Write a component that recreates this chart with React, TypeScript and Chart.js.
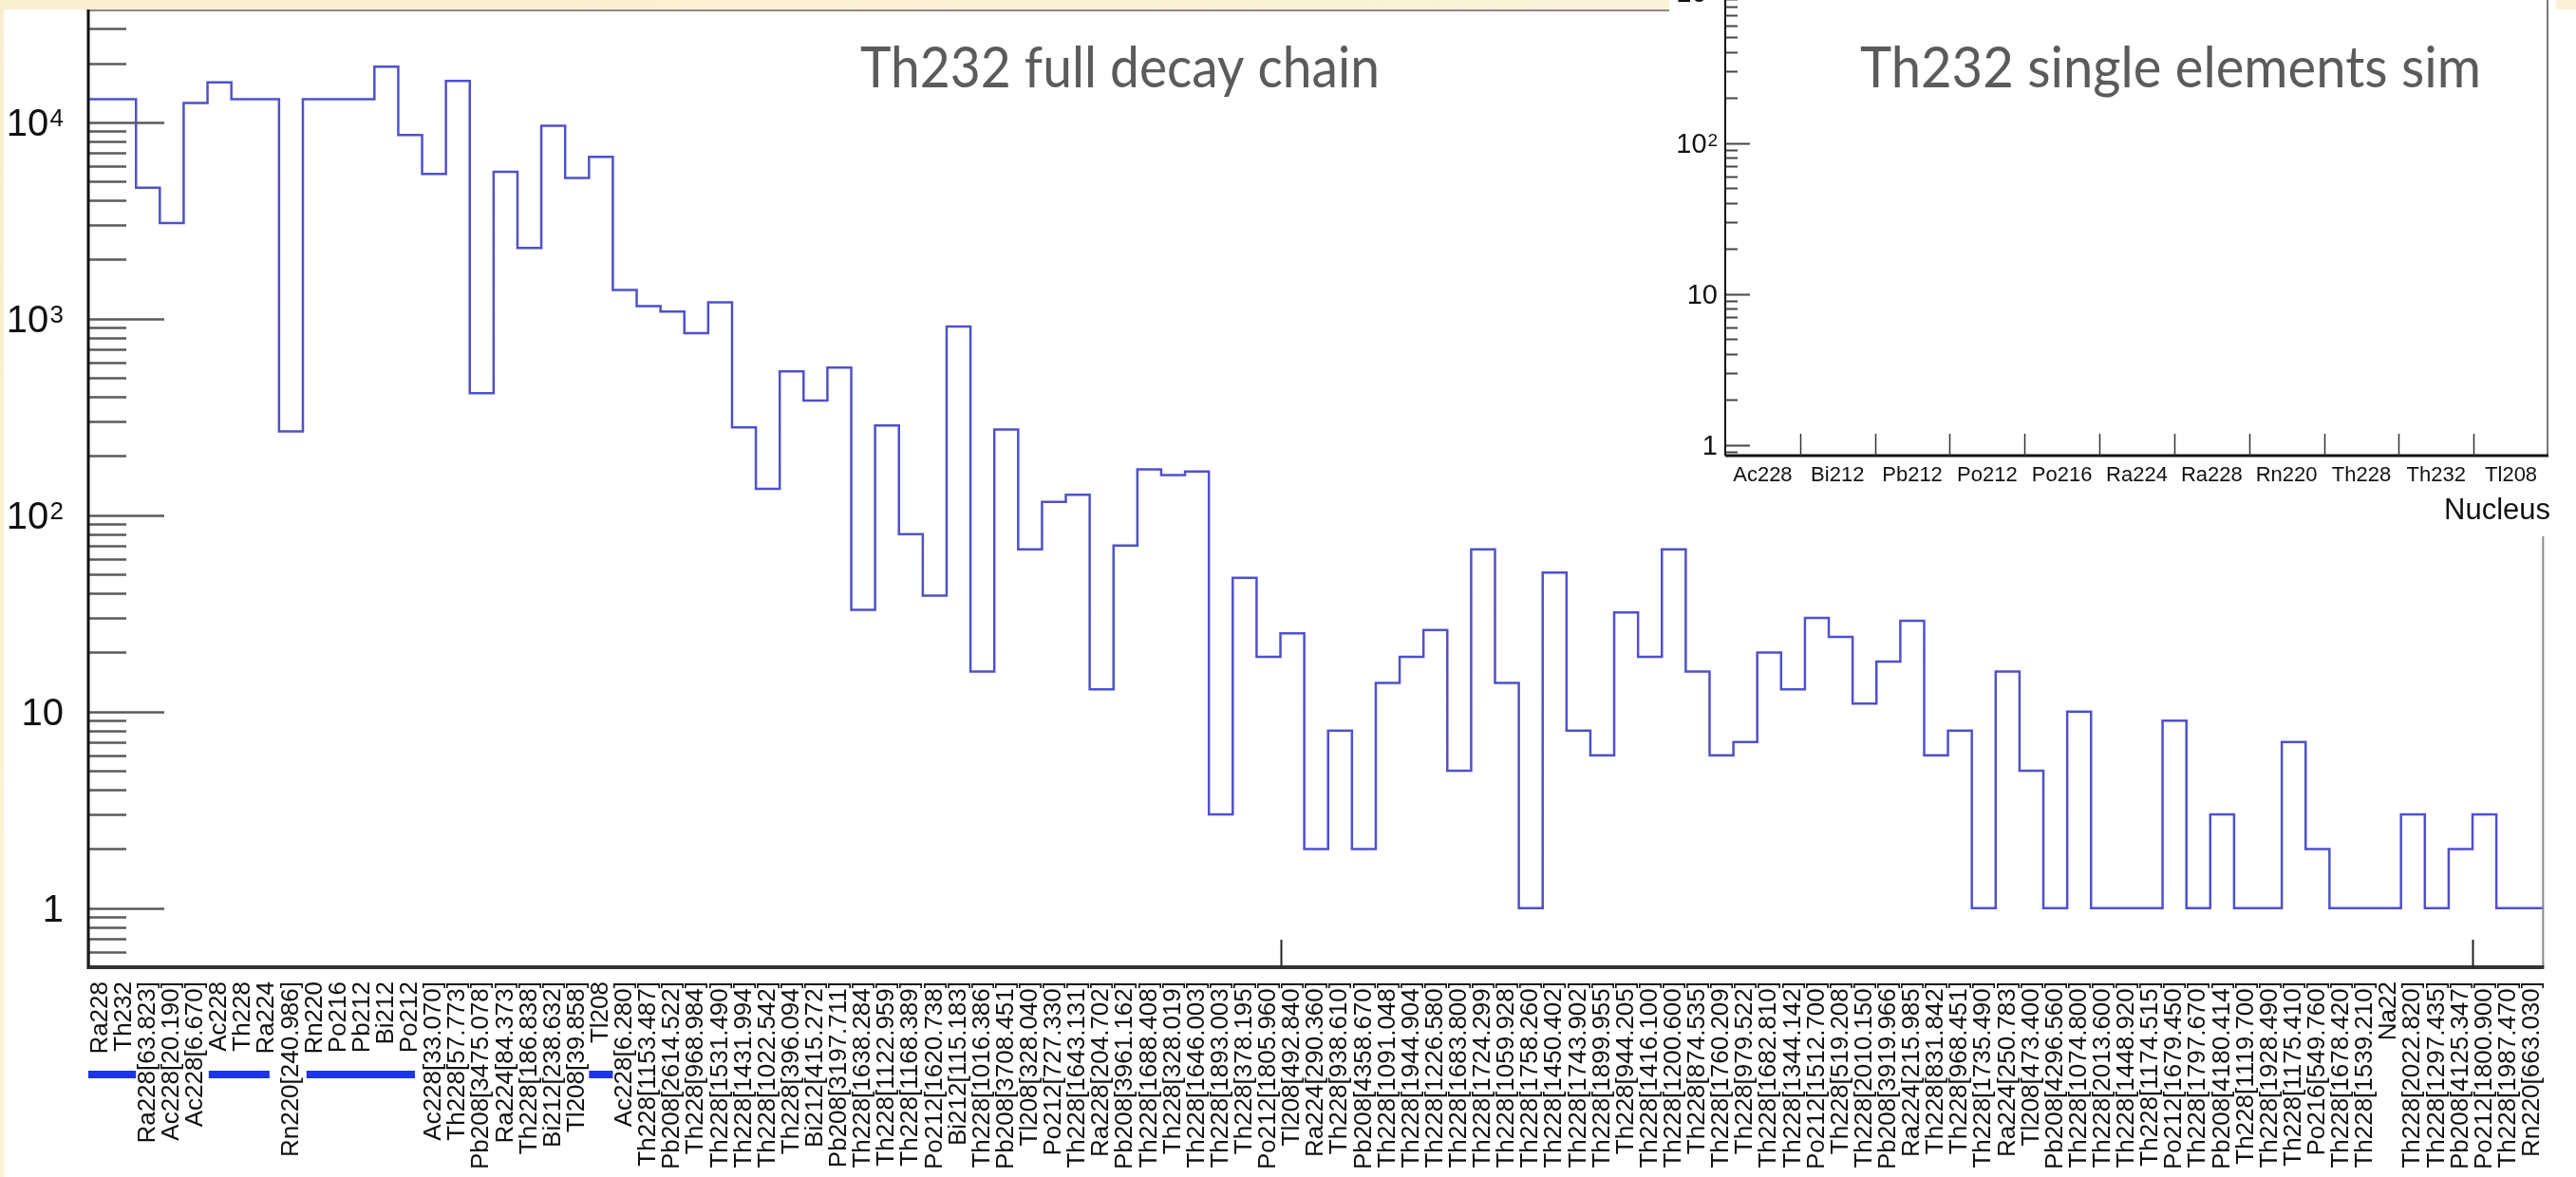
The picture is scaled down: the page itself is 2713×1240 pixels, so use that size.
import React, { useEffect, useRef } from 'react';
import { Chart, registerables } from 'chart.js';

Chart.register(...registerables);

// ---------------- data ----------------
const binLabels: string[] = [
  'Ra228', 'Th232', 'Ra228[63.823]', 'Ac228[20.190]', 'Ac228[6.670]', 'Ac228', 'Th228', 'Ra224',
  'Rn220[240.986]', 'Rn220', 'Po216', 'Pb212', 'Bi212', 'Po212', 'Ac228[33.070]', 'Th228[57.773]',
  'Pb208[3475.078]', 'Ra224[84.373]', 'Th228[186.838]', 'Bi212[238.632]', 'Tl208[39.858]', 'Tl208',
  'Ac228[6.280]', 'Th228[1153.487]', 'Pb208[2614.522]', 'Th228[968.984]', 'Th228[1531.490]',
  'Th228[1431.994]', 'Th228[1022.542]', 'Th228[396.094]', 'Bi212[415.272]', 'Pb208[3197.711]',
  'Th228[1638.284]', 'Th228[1122.959]', 'Th228[1168.389]', 'Po212[1620.738]', 'Bi212[115.183]',
  'Th228[1016.386]', 'Pb208[3708.451]', 'Tl208[328.040]', 'Po212[727.330]', 'Th228[1643.131]',
  'Ra228[204.702]', 'Pb208[3961.162]', 'Th228[1688.408]', 'Th228[328.019]', 'Th228[1646.003]',
  'Th228[1893.003]', 'Th228[378.195]', 'Po212[1805.960]', 'Tl208[492.840]', 'Ra224[290.360]',
  'Th228[938.610]', 'Pb208[4358.670]', 'Th228[1091.048]', 'Th228[1944.904]', 'Th228[1226.580]',
  'Th228[1683.800]', 'Th228[1724.299]', 'Th228[1059.928]', 'Th228[1758.260]', 'Th228[1450.402]',
  'Th228[1743.902]', 'Th228[1899.955]', 'Th228[944.205]', 'Th228[1416.100]', 'Th228[1200.600]',
  'Th228[874.535]', 'Th228[1760.209]', 'Th228[979.522]', 'Th228[1682.810]', 'Th228[1344.142]',
  'Po212[1512.700]', 'Th228[519.208]', 'Th228[2010.150]', 'Pb208[3919.966]', 'Ra224[215.985]',
  'Th228[831.842]', 'Th228[968.451]', 'Th228[1735.490]', 'Ra224[250.783]', 'Tl208[473.400]',
  'Pb208[4296.560]', 'Th228[1074.800]', 'Th228[2013.600]', 'Th228[1448.920]', 'Th228[1174.515]',
  'Po212[1679.450]', 'Th228[1797.670]', 'Pb208[4180.414]', 'Th228[1119.700]', 'Th228[1928.490]',
  'Th228[1175.410]', 'Po216[549.760]', 'Th228[1678.420]', 'Th228[1539.210]', 'Na22',
  'Th228[2022.820]', 'Th228[1297.435]', 'Pb208[4125.347]', 'Po212[1800.900]', 'Th228[1987.470]',
  'Rn220[663.030]',
];

const binCounts: number[] = [
  13100, 13100, 4650, 3070, 12540, 15960, 13100, 13100, 267, 13100,
  13100, 13100, 19190, 8600, 5460, 16250, 418, 5600, 2290, 9600,
  5200, 6670, 1400, 1160, 1087, 844, 1213, 280, 136, 540,
  383, 564, 33, 286, 80, 39, 913, 16, 273, 67,
  117, 127, 13, 70, 171, 160, 167, 3, 48, 19,
  25, 2, 8, 2, 14, 19, 26, 5, 67, 14,
  1, 51, 8, 6, 32, 19, 67, 16, 6, 7,
  20, 13, 30, 24, 11, 18, 29, 6, 8, 1,
  16, 5, 1, 10, 1, 1, 1, 9, 1, 3,
  1, 1, 7, 2, 1, 1, 1, 3, 1, 2,
  3, 1, 1,
];

// highlighted label groups (bin index ranges)
const highlightRanges: [number, number][] = [[0, 2], [5.05, 7.6], [9.15, 13.7], [21, 22]];
// bin edges where the x axis carries a tick
const xTickEdges: number[] = [0, 50, 100];

const mainTitle = 'Th232 full decay chain';
const insetTitle = 'Th232 single elements sim';

const insetLabels: string[] = ['Ac228', 'Bi212', 'Pb212', 'Po212', 'Po216', 'Ra224', 'Ra228', 'Rn220', 'Th228', 'Th232', 'Tl208'];
const insetCounts: (number | null)[] = [null, null, null, null, null, null, null, null, null, null, null];
const insetAxisTitle = 'Nucleus';

const mainYRange: [number, number] = [0.5, 37500];
const insetYRange: [number, number] = [0.848, 1580];

// ---------------- styling helpers ----------------
const LABEL_FONT = '"Liberation Sans", Arial, Helvetica, sans-serif';
const TITLE_FONT = 'Lato, "Open Sans", sans-serif';

function drawPowLabel(ctx: CanvasRenderingContext2D, exp: number, xRight: number, yCenter: number, size: number) {
  ctx.save();
  ctx.fillStyle = '#111';
  ctx.textBaseline = 'alphabetic';
  ctx.textAlign = 'left';
  const baseFont = `${size}px ${LABEL_FONT}`;
  const supSize = Math.round(size * 0.66);
  const supFont = `${supSize}px ${LABEL_FONT}`;
  const base = exp === 0 ? '1' : '10';
  const sup = exp >= 2 ? String(exp) : '';
  ctx.font = baseFont;
  const bw = ctx.measureText(base).width;
  ctx.font = supFont;
  const gap = size * 0.03;
  const sw = sup ? ctx.measureText(sup).width + gap : 0;
  const baseline = yCenter + (size * 0.716) / 2;
  const x0 = xRight - bw - sw;
  ctx.font = baseFont;
  ctx.fillText(base, x0, baseline);
  if (sup) {
    ctx.font = supFont;
    ctx.fillText(sup, x0 + bw + gap, baseline - size * 0.25);
  }
  ctx.restore();
}

function drawFittedText(ctx: CanvasRenderingContext2D, text: string, x: number, baseline: number, width: number, size: number, color: string) {
  ctx.save();
  ctx.font = `${size}px ${TITLE_FONT}`;
  ctx.fillStyle = color;
  ctx.textBaseline = 'alphabetic';
  ctx.textAlign = 'left';
  const w = ctx.measureText(text).width;
  ctx.translate(x, baseline);
  ctx.scale(width / w, 1);
  ctx.fillText(text, 0, 0);
  ctx.restore();
}

function drawLogTicks(ctx: CanvasRenderingContext2D, scale: any, x: number, majorLen: number, minorLen: number, min: number, max: number, color: string, width: number) {
  ctx.save();
  ctx.strokeStyle = color;
  ctx.lineWidth = width;
  const e0 = Math.floor(Math.log10(min));
  const e1 = Math.ceil(Math.log10(max));
  for (let e = e0; e <= e1; e++) {
    for (let m = 1; m <= 9; m++) {
      const v = m * Math.pow(10, e);
      if (v < min * 0.999 || v > max * 1.001) continue;
      const y = Math.round(scale.getPixelForValue(v)) + 0.5;
      ctx.beginPath();
      ctx.moveTo(x, y);
      ctx.lineTo(x + (m === 1 ? majorLen : minorLen), y);
      ctx.stroke();
    }
  }
  ctx.restore();
}

// ---------------- plugins ----------------
const mainPlugin = {
  id: 'rootMain',
  beforeDraw(chart: any) {
    const ctx = chart.ctx as CanvasRenderingContext2D;
    ctx.save();
    ctx.fillStyle = '#ffffff';
    ctx.fillRect(4, 10, chart.width - 4, chart.height - 10);
    ctx.restore();
  },
  afterDraw(chart: any) {
    const ctx = chart.ctx as CanvasRenderingContext2D;
    const { left, right, top, bottom } = chart.chartArea;
    const xs = chart.scales.x;
    const ys = chart.scales.y;

    // y ticks
    drawLogTicks(ctx, ys, left, 80, 40, mainYRange[0], mainYRange[1], '#5a5a5a', 2.5);

    ctx.save();
    // frame top & right
    ctx.strokeStyle = '#8a8a8a';
    ctx.lineWidth = 2;
    ctx.beginPath();
    ctx.moveTo(left, top + 1);
    ctx.lineTo(right, top + 1);
    ctx.moveTo(right - 1, top);
    ctx.lineTo(right - 1, bottom);
    ctx.stroke();
    // y axis
    ctx.strokeStyle = '#111';
    ctx.lineWidth = 3;
    ctx.beginPath();
    ctx.moveTo(left, top);
    ctx.lineTo(left, bottom + 2);
    ctx.stroke();
    // x axis
    ctx.strokeStyle = '#333';
    ctx.lineWidth = 4;
    ctx.beginPath();
    ctx.moveTo(left, bottom);
    ctx.lineTo(right, bottom);
    ctx.stroke();
    // x ticks at bin edges
    ctx.strokeStyle = '#222';
    ctx.lineWidth = 2;
    xTickEdges.forEach((edge) => {
      const x = Math.round(xs.getPixelForValue(edge)) + 0.5;
      ctx.beginPath();
      ctx.moveTo(x, bottom);
      ctx.lineTo(x, bottom - 29);
      ctx.stroke();
    });
    // highlight bars under labels
    ctx.fillStyle = '#1c36e4';
    highlightRanges.forEach(([a, b]) => {
      const x0 = xs.getPixelForValue(a);
      const x1 = xs.getPixelForValue(b);
      ctx.fillRect(x0, bottom + 109, x1 - x0, 8);
    });
    ctx.restore();

    // y labels
    for (let e = 0; e <= 4; e++) {
      drawPowLabel(ctx, e, 67, ys.getPixelForValue(Math.pow(10, e)), 40);
    }

    drawFittedText(ctx, mainTitle, 906, 92, 547, 60, '#5b5b5b');
  },
};

const insetPlugin = {
  id: 'rootInset',
  beforeDraw(chart: any) {
    const ctx = chart.ctx as CanvasRenderingContext2D;
    ctx.save();
    ctx.fillStyle = '#ffffff';
    ctx.fillRect(0, 0, chart.width, chart.height);
    ctx.restore();
  },
  afterDraw(chart: any) {
    const ctx = chart.ctx as CanvasRenderingContext2D;
    const { left, right, top, bottom } = chart.chartArea;
    const xs = chart.scales.x;
    const ys = chart.scales.y;

    drawLogTicks(ctx, ys, left, 26, 13, insetYRange[0], insetYRange[1], '#444', 2);

    ctx.save();
    ctx.strokeStyle = '#777';
    ctx.lineWidth = 2;
    ctx.beginPath();
    ctx.moveTo(right - 1, top);
    ctx.lineTo(right - 1, bottom);
    ctx.moveTo(left, top);
    ctx.lineTo(right, top);
    ctx.stroke();
    ctx.strokeStyle = '#111';
    ctx.lineWidth = 2;
    ctx.beginPath();
    ctx.moveTo(left, top);
    ctx.lineTo(left, bottom);
    ctx.stroke();
    ctx.lineWidth = 3;
    ctx.beginPath();
    ctx.moveTo(left, bottom);
    ctx.lineTo(right, bottom);
    ctx.stroke();
    // category boundary ticks
    ctx.strokeStyle = '#333';
    ctx.lineWidth = 1.5;
    for (let i = 1; i < insetLabels.length; i++) {
      const x = Math.round((xs.getPixelForValue(i - 1) + xs.getPixelForValue(i)) / 2) + 0.5;
      ctx.beginPath();
      ctx.moveTo(x, bottom);
      ctx.lineTo(x, bottom - 23);
      ctx.stroke();
    }
    // axis title
    ctx.fillStyle = '#111';
    ctx.font = `31px ${LABEL_FONT}`;
    ctx.textAlign = 'right';
    ctx.textBaseline = 'middle';
    ctx.fillText(insetAxisTitle, right + 2, bottom + 58);
    ctx.restore();

    for (let e = 0; e <= 3; e++) {
      drawPowLabel(ctx, e, left - 8, ys.getPixelForValue(Math.pow(10, e)), 29);
    }

    drawFittedText(ctx, insetTitle, 201, 152, 654, 60, '#5b5b5b');
  },
};

// ---------------- component ----------------
export default function App() {
  const mainRef = useRef<HTMLCanvasElement | null>(null);
  const insetRef = useRef<HTMLCanvasElement | null>(null);

  useEffect(() => {
    if (!mainRef.current || !insetRef.current) return;

    const stepPoints = binCounts.flatMap((v, i) => [
      { x: i, y: v },
      { x: i + 1, y: v },
    ]);

    const main = new Chart(mainRef.current, {
      type: 'line',
      data: {
        datasets: [
          {
            data: stepPoints,
            borderColor: '#5050cc',
            borderWidth: 2.5,
            pointRadius: 0,
            fill: false,
            tension: 0,
          },
        ],
      },
      options: {
        animation: false,
        responsive: false,
        devicePixelRatio: 1,
        layout: { padding: { left: 0, right: 1, top: 10, bottom: 0 } },
        plugins: { legend: { display: false }, tooltip: { enabled: false } },
        scales: {
          x: {
            type: 'linear',
            min: 0,
            max: binLabels.length,
            grid: { display: false, drawTicks: false },
            border: { display: false },
            afterBuildTicks: (s: any) => {
              s.ticks = binLabels.map((_, i) => ({ value: i + 0.5 }));
            },
            ticks: {
              autoSkip: false,
              maxRotation: 90,
              minRotation: 90,
              padding: 15,
              color: '#111',
              font: { family: LABEL_FONT, size: 26 },
              callback: (_v: any, i: number) => binLabels[i],
            },
            afterFit: (s: any) => {
              s.height = 221;
            },
          },
          y: {
            type: 'logarithmic',
            min: mainYRange[0],
            max: mainYRange[1],
            grid: { display: false },
            border: { display: false },
            ticks: { display: false },
            afterFit: (s: any) => {
              s.width = 93;
            },
          },
        },
      } as any,
      plugins: [mainPlugin],
    });

    const inset = new Chart(insetRef.current, {
      type: 'bar',
      data: {
        labels: insetLabels,
        datasets: [{ data: insetCounts, backgroundColor: '#5050cc' }],
      },
      options: {
        animation: false,
        responsive: false,
        devicePixelRatio: 1,
        layout: { padding: { left: 0, right: 8, top: 20, bottom: 0 } },
        plugins: { legend: { display: false }, tooltip: { enabled: false } },
        scales: {
          x: {
            type: 'category',
            offset: true,
            grid: { display: false, drawTicks: false },
            border: { display: false },
            ticks: {
              autoSkip: false,
              maxRotation: 0,
              minRotation: 0,
              padding: 8,
              color: '#111',
              font: { family: LABEL_FONT, size: 22 },
            },
            afterFit: (s: any) => {
              s.height = 85;
            },
          },
          y: {
            type: 'logarithmic',
            min: insetYRange[0],
            max: insetYRange[1],
            grid: { display: false },
            border: { display: false },
            ticks: { display: false },
            afterFit: (s: any) => {
              s.width = 59;
            },
          },
        },
      } as any,
      plugins: [insetPlugin],
    });

    return () => {
      main.destroy();
      inset.destroy();
    };
  }, []);

  return (
    <div
      style={{
        position: 'fixed',
        left: 0,
        top: 0,
        width: 2713,
        height: 1240,
        overflow: 'hidden',
        background: 'linear-gradient(135deg, #f9eecd 0%, #fbf3da 50%, #f8ecc8 100%)',
      }}
    >
      <canvas
        ref={mainRef}
        width={2713}
        height={1240}
        style={{ position: 'absolute', left: 0, top: 0, width: 2713, height: 1240 }}
      />
      <canvas
        ref={insetRef}
        width={934}
        height={625}
        style={{ position: 'absolute', left: 1758, top: -60, width: 934, height: 625 }}
      />
    </div>
  );
}
